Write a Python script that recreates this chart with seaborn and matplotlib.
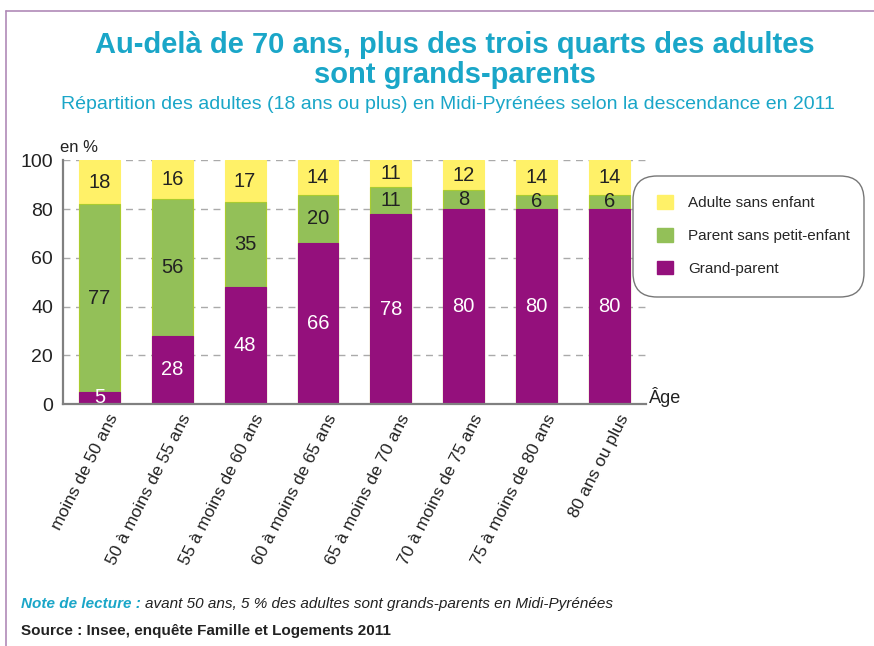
import numpy as np
import pandas as pd
from matplotlib import pyplot as plt
from matplotlib import transforms
from matplotlib.patches import FancyBboxPatch, Rectangle
from matplotlib.lines import Line2D
import seaborn as sns

sns.set_theme(style="white")
plt.rcParams["font.family"] = ["Liberation Sans", "DejaVu Sans"]

categories = ["moins de 50 ans", "50 à moins de 55 ans", "55 à moins de 60 ans",
              "60 à moins de 65 ans", "65 à moins de 70 ans", "70 à moins de 75 ans",
              "75 à moins de 80 ans", "80 ans ou plus"]
grand_parent = [5, 28, 48, 66, 78, 80, 80, 80]
parent_sans_petit = [77, 56, 35, 20, 11, 8, 6, 6]
sans_enfant = [18, 16, 17, 14, 11, 12, 14, 14]
series_labels = ["Adulte sans enfant", "Parent sans petit-enfant", "Grand-parent"]

YELLOW = "#FFF168"
GREEN = "#93C058"
PURPLE = "#94107C"
CYAN = "#1AA6C8"
DARK = "#222222"

df = pd.DataFrame({"age": categories, "gp": grand_parent,
                   "psp": parent_sans_petit, "se": sans_enfant})
df["c1"] = df["gp"]
df["c2"] = df["gp"] + df["psp"]
df["c3"] = df["c2"] + df["se"]

fig = plt.figure(figsize=(8.74, 6.46), dpi=100)
ax = fig.add_axes([0.072, 0.3746, 0.667, 0.377])

# stacked bars as cumulative totals, top layer drawn first
sns.barplot(data=df, x="age", y="c3", color=YELLOW, width=0.56, saturation=1,
            edgecolor=YELLOW, linewidth=0.8, ax=ax)
sns.barplot(data=df, x="age", y="c2", color=GREEN, width=0.56, saturation=1,
            edgecolor="#A9CC30", linewidth=0.8, ax=ax)
sns.barplot(data=df, x="age", y="c1", color=PURPLE, width=0.56, saturation=1,
            edgecolor=PURPLE, linewidth=0.8, ax=ax)

for i in range(len(categories)):
    g, p, s = grand_parent[i], parent_sans_petit[i], sans_enfant[i]
    ax.text(i, g / 2 if g > 8 else 2.6, str(g), ha="center", va="center",
            color="white", fontsize=14.5)
    ax.text(i, g + p / 2, str(p), ha="center", va="center", color=DARK, fontsize=14.5)
    ax.text(i, g + p + s / 2, str(s), ha="center", va="center", color=DARK, fontsize=14.5)

ax.set_ylim(0, 100)
ax.set_xlim(-0.5, len(categories) - 0.5)
ax.set_yticks([0, 20, 40, 60, 80, 100])
ax.set_yticklabels(["0", "20", "40", "60", "80", "100"], fontsize=14)
ax.tick_params(axis="y", length=0, pad=7, colors=DARK)
ax.yaxis.grid(True, linestyle=(0, (5, 4)), color="#AAAAAA", linewidth=1)
ax.set_axisbelow(True)
ax.set_xticks(range(len(categories)))
ax.set_xticklabels(categories, rotation=63, ha="right", va="center",
                   rotation_mode="anchor", fontsize=12.5)
ax.tick_params(axis="x", length=0, pad=0, colors=DARK)
shift = transforms.ScaledTranslation(0.15, -0.11, fig.dpi_scale_trans)
for lab in ax.get_xticklabels():
    lab.set_transform(lab.get_transform() + shift)
ax.set_xticks(np.arange(0.5, len(categories) - 0.5, 1), minor=True)
ax.tick_params(axis="x", which="minor", direction="in", length=6, width=1.3, color="#808080")
ax.set_xlabel("")
ax.set_ylabel("")
for side in ["top", "right"]:
    ax.spines[side].set_visible(False)
for side in ["left", "bottom"]:
    ax.spines[side].set_color("#808080")
    ax.spines[side].set_linewidth(1.6)

fig.text(0.069, 0.765, "en %", fontsize=12, color=DARK)
fig.text(0.742, 0.376, "Âge", fontsize=13, color=DARK)

# legend with a rounded frame drawn by hand (pixel coords)
box = FancyBboxPatch((633, 349), 231, 121, boxstyle="round,pad=0,rounding_size=24",
                     transform=None, facecolor="white", edgecolor="#777777",
                     linewidth=1.0, zorder=5)
fig.add_artist(box)
legend = fig.legend(handles=[Rectangle((0, 0), 1, 1, color=c) for c in [YELLOW, GREEN, PURPLE]],
                    labels=series_labels, loc="upper left",
                    bbox_to_anchor=(645 / 874, (646 - 183) / 646),
                    frameon=False, fontsize=11, handlelength=1.0, handleheight=1.0,
                    labelspacing=1.15, borderpad=0.3, handletextpad=1.0)
legend.set_zorder(6)

# titles
fig.text(0.52, 0.930, "Au-delà de 70 ans, plus des trois quarts des adultes",
         ha="center", va="center", fontsize=21, fontweight="bold", color=CYAN)
fig.text(0.52, 0.884, "sont grands-parents",
         ha="center", va="center", fontsize=21, fontweight="bold", color=CYAN)
fig.text(0.513, 0.839, "Répartition des adultes (18 ans ou plus) en Midi-Pyrénées selon la descendance en 2011",
         ha="center", va="center", fontsize=14, color=CYAN)

# notes
note = fig.text(0.024, 0.065, "Note de lecture :", fontsize=11, fontweight="bold",
                style="italic", color=CYAN, va="center")
fig.canvas.draw()
bb = note.get_window_extent(fig.canvas.get_renderer())
fig.text((bb.x1 + 4) / fig.bbox.width, 0.065,
         "avant 50 ans, 5 % des adultes sont grands-parents en Midi-Pyrénées",
         fontsize=11, style="italic", color=DARK, va="center")
fig.text(0.024, 0.023, "Source : Insee, enquête Famille et Logements 2011", fontsize=11,
         fontweight="bold", color=DARK, va="center")

# outer frame
fig.add_artist(Line2D([0.007, 1.0], [0.983, 0.983], color="#B08AB8", linewidth=1.2))
fig.add_artist(Line2D([0.007, 0.007], [0.0, 0.983], color="#B08AB8", linewidth=1.2))

fig.savefig("out.png", dpi=100)
